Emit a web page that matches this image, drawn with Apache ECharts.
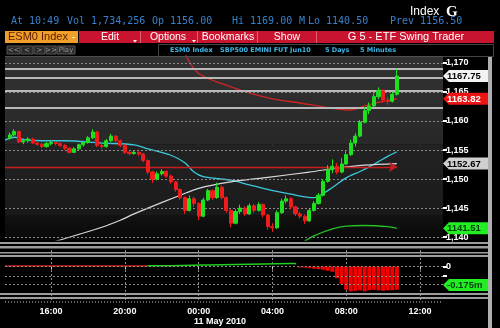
<!DOCTYPE html>
<html><head><meta charset="utf-8">
<script src="https://cdn.jsdelivr.net/npm/echarts@6/dist/echarts.min.js"></script>
<style>html,body{margin:0;padding:0;background:#000;}#c{width:500px;height:328px;}</style>
</head><body><div id="c"></div>
<script>
// ---------- data ----------
const categories = [];
for (let i = 0; i < 96; i++) { const m = (13 * 60 + 30 + 15 * i) % 1440; categories.push(String(Math.floor(m / 60)).padStart(2, '0') + ':' + String(m % 60).padStart(2, '0')); }
const tickTimes = ['16:00', '20:00', '00:00', '04:00', '08:00', '12:00'];
const priceTicks = [1140, 1145, 1150, 1155, 1160, 1165, 1170];
const candleStart = '13:45';
const opens = [1157.0,1157.6,1158.2,1156.4,1156.6,1156.9,1156.2,1156.0,1155.6,1156.1,1156.3,1156.1,1155.8,1155.3,1154.6,1155.2,1155.9,1156.3,1157.1,1158.1,1155.8,1155.6,1156.6,1157.4,1156.6,1155.8,1154.6,1154.4,1154.6,1154.3,1153.2,1151.2,1150.0,1150.9,1151.3,1150.5,1149.5,1148.2,1146.8,1144.6,1146.6,1145.8,1143.6,1146.4,1148.0,1146.8,1148.6,1146.8,1144.6,1142.4,1144.4,1145.0,1144.0,1145.4,1144.6,1145.6,1143.8,1141.8,1141.6,1144.2,1146.2,1146.6,1145.2,1144.0,1143.6,1142.8,1144.6,1145.8,1147.2,1149.6,1151.6,1152.2,1151.2,1152.6,1154.2,1156.2,1157.4,1159.8,1161.8,1162.6,1164.2,1165.2,1163.6,1163.4,1164.6];
const closes = [1157.6,1158.2,1156.4,1156.6,1156.9,1156.2,1156.0,1155.6,1156.1,1156.3,1156.1,1155.8,1155.3,1154.6,1155.2,1155.9,1156.3,1157.1,1158.1,1155.8,1155.6,1156.6,1157.4,1156.6,1155.8,1154.6,1154.4,1154.6,1154.3,1153.2,1151.2,1150.0,1150.9,1151.3,1150.5,1149.5,1148.2,1146.8,1144.6,1146.6,1145.8,1143.6,1146.4,1148.0,1146.8,1148.6,1146.8,1144.6,1142.4,1144.4,1145.0,1144.0,1145.4,1144.6,1145.6,1143.8,1141.8,1141.6,1144.2,1146.2,1146.6,1145.2,1144.0,1143.6,1142.8,1144.6,1145.8,1147.2,1149.6,1151.6,1152.2,1151.2,1152.6,1154.2,1156.2,1157.4,1159.8,1161.8,1162.6,1164.2,1165.2,1163.6,1163.4,1164.6,1167.75];
const lows = [1156.8,1157.4,1156.2,1156.0,1156.3,1156.0,1155.7,1155.3,1155.4,1155.8,1155.8,1155.5,1155.0,1154.4,1154.5,1155.0,1155.6,1156.1,1156.9,1155.5,1155.2,1155.4,1156.4,1156.3,1155.5,1154.3,1154.1,1154.2,1154.0,1152.9,1150.8,1149.3,1149.8,1150.6,1150.2,1149.2,1147.8,1146.4,1144.0,1144.4,1145.2,1142.9,1143.4,1146.2,1146.4,1146.6,1146.5,1144.2,1141.7,1142.2,1144.0,1143.6,1143.8,1144.2,1144.4,1143.4,1141.3,1140.9,1141.4,1144.0,1145.8,1144.8,1143.6,1143.2,1142.3,1142.6,1144.4,1145.6,1147.0,1149.4,1151.0,1150.8,1151.0,1152.4,1154.0,1155.6,1157.2,1159.6,1161.2,1162.4,1163.8,1163.2,1162.8,1163.2,1164.4];
const highs = [1158.0,1158.6,1158.3,1157.0,1157.2,1157.1,1156.5,1156.2,1156.4,1156.6,1156.5,1156.3,1156.0,1155.5,1155.5,1156.1,1156.6,1157.4,1158.6,1158.3,1156.1,1156.9,1157.8,1157.6,1156.8,1156.0,1154.9,1154.9,1154.8,1154.5,1153.4,1151.4,1151.3,1151.7,1151.5,1150.8,1149.7,1148.4,1147.0,1147.2,1147.0,1146.0,1146.8,1148.3,1148.2,1149.4,1148.9,1147.0,1144.8,1144.8,1145.6,1145.3,1145.8,1145.7,1146.0,1145.8,1144.0,1142.4,1144.6,1146.6,1147.2,1146.9,1145.4,1144.4,1143.9,1145.0,1146.2,1147.6,1150.0,1152.4,1153.4,1152.8,1153.6,1154.8,1156.8,1157.9,1160.2,1162.4,1163.2,1164.8,1165.8,1165.5,1164.2,1165.0,1169.0];

const cyanTimes = ['13:30','14:00','14:30','15:30','16:45','18:45','20:30','21:15','22:30','23:15','23:45','00:15','01:45','02:45','03:30','05:00','06:15','07:00','08:00','08:45','09:15','09:45','10:15','10:45'];
const cyanValues = [1156.7,1157.2,1156.8,1156.6,1156.6,1156.2,1155.9,1155.2,1154.1,1152.8,1151.2,1150.4,1149.8,1149.0,1148.4,1147.4,1146.8,1148.0,1150.2,1151.3,1152.1,1153.0,1153.9,1154.7];
const whiteTimes = ['15:45','18:45','19:45','20:30','21:15','23:00','00:00','01:45','03:45','06:00','07:30','09:00','10:45'];
const whiteValues = [1138.8,1141.7,1142.9,1144.0,1145.0,1147.2,1148.4,1149.5,1150.3,1151.2,1151.9,1152.4,1152.67];
const redMaTimes = ['23:15','00:00','01:45','03:45','05:30','07:15','08:15','09:00','09:45','10:45'];
const redMaValues = [1171.6,1168.2,1165.9,1164.0,1163.1,1162.2,1161.9,1162.6,1163.2,1163.82];
const greenMaTimes = ['05:45','06:15','07:15','08:00','09:00','10:15','10:45'];
const greenMaValues = [1139.3,1140.2,1141.4,1141.9,1142.0,1141.8,1141.51];
const levelLines = [1169.0, 1167.4, 1165.2, 1162.2];
const redLevel = 1152.1;

const lowRedTimes = ['13:30', '21:15'];
const lowRedValues = [0.005, 0.005];
const lowGreenTimes = ['21:15','22:15','22:30','00:15','00:30','05:00','05:15'];
const lowGreenValues = [0.008,0.008,0.015,0.015,0.028,0.028,0.02];
const barStart = '05:15';
const flowValues = [0,-0.01,-0.01,-0.015,-0.02,-0.025,-0.03,-0.04,-0.05,-0.11,-0.165,-0.22,-0.235,-0.23,-0.225,-0.235,-0.225,-0.22,-0.225,-0.23,-0.225,-0.225,-0.22];
const flowLast = -0.175;
const flowGrid = [0, -0.0875, -0.175];

const headerPieces = [['At 10:49', 11], ['Vol 1,734,256', 67], ['Op 1156.00', 152], ['Hi 1169.00', 232], ['M', 299], ['Lo 1140.50', 308], ['Prev 1156.50', 390]];

// ---------- build ----------
const cs = categories.indexOf(candleStart);
const candleData = categories.map((c, i) => {
  const k = i - cs;
  return (k >= 0 && k < closes.length) ? [opens[k], closes[k], lows[k], highs[k]] : '-';
});
const pairs = (t, v) => t.map((x, i) => [x, v[i]]);
const bs = categories.indexOf(barStart);
const barData = categories.map((c, i) => { const k = i - bs; return (k >= 0 && k < flowValues.length) ? flowValues[k] : '-'; });
const showTick = (idx, val) => tickTimes.includes(val);
const lastTime = categories[cs + closes.length - 1];

const chart = echarts.init(document.getElementById('c'));
const font = "'Liberation Sans', Arial, sans-serif";
const grad = (a, b) => new echarts.graphic.LinearGradient(0, 0, 0, 1, [{offset: 0, color: a}, {offset: 1, color: b}]);

chart.setOption({
  animation: false,
  backgroundColor: '#000',
  grid: [
    {left: 5, right: 57, top: 56, height: 184},
    {left: 5, right: 57, top: 242, height: 58}
  ],
  xAxis: [
    {type: 'category', gridIndex: 0, data: categories, boundaryGap: false,
     axisLine: {show: false}, axisTick: {show: false}, axisLabel: {show: false},
     splitLine: {show: true, interval: showTick, lineStyle: {color: '#8a8a8a', type: [2, 2], width: 1}}},
    {type: 'category', gridIndex: 1, data: categories, boundaryGap: false,
     axisLine: {show: false},
     axisTick: {show: true, interval: showTick, length: 3, lineStyle: {color: '#cccccc'}},
     axisLabel: {show: true, interval: showTick, color: '#ffffff', fontSize: 9, fontWeight: 'bold', fontFamily: font, margin: 7},
     splitLine: {show: true, interval: showTick, lineStyle: {color: '#8a8a8a', type: [2, 2], width: 1}}}
  ],
  yAxis: [
    {type: 'value', gridIndex: 0, position: 'right', min: 1139.5, max: 1171.2, scale: true,
     axisLine: {show: false},
     axisTick: {show: true, customValues: priceTicks, length: 4, lineStyle: {color: '#fff', width: 2}},
     axisLabel: {show: true, customValues: priceTicks, color: '#fff', fontSize: 9, fontWeight: 'bold', fontFamily: font, margin: 3},
     splitLine: {show: false}},
    {type: 'value', gridIndex: 1, position: 'right', min: -0.317, max: 0.232,
     axisLine: {show: false},
     axisTick: {show: true, customValues: [0, -0.0875], length: 4, lineStyle: {color: '#fff', width: 2}},
     axisLabel: {show: true, customValues: [0], formatter: v => (v === 0 ? '0' : ''), color: '#fff', fontSize: 9, fontWeight: 'bold', fontFamily: font, margin: 3},
     splitLine: {show: false}}
  ],
  series: [
    {type: 'line', xAxisIndex: 0, yAxisIndex: 0, data: [], z: 1, silent: true,
     markArea: {silent: true, data: [
       [{yAxis: 1171.2, itemStyle: {color: grad('#323232', '#282828')}}, {yAxis: 1156.0}],
       [{yAxis: 1156.0, itemStyle: {color: grad('#232323', '#1a1a1a')}}, {yAxis: 1143.8}],
       [{yAxis: 1143.8, itemStyle: {color: grad('#121212', '#080808')}}, {yAxis: 1139.5}]
     ]},
     markLine: {silent: true, symbol: 'none', label: {show: false}, lineStyle: {color: '#8a8a8a', type: [2, 2], width: 1},
       data: priceTicks.map(v => ({yAxis: v}))}},
    {type: 'candlestick', xAxisIndex: 0, yAxisIndex: 0, data: candleData, barWidth: 3.6, z: 5,
     itemStyle: {color: '#1ee01e', color0: '#ee1c1c', borderColor: '#1ee01e', borderColor0: '#ee1c1c', borderWidth: 1},
     markLine: {silent: true, symbol: 'none', label: {show: false}, lineStyle: {color: '#b8b8b8', width: 2, type: 'solid'},
       data: levelLines.map(v => ({yAxis: v}))}},
    {type: 'line', xAxisIndex: 0, yAxisIndex: 0, data: pairs(cyanTimes, cyanValues), smooth: 0.3, symbol: 'none', z: 4,
     lineStyle: {color: '#3cc8dc', width: 1.3}},
    {type: 'line', xAxisIndex: 0, yAxisIndex: 0, data: pairs(whiteTimes, whiteValues), smooth: 0.3, symbol: 'none', z: 4,
     lineStyle: {color: '#d8d8d8', width: 1.2},
     markLine: {silent: true, symbol: ['none', 'arrow'], symbolSize: 8, label: {show: false}, lineStyle: {color: '#c81e1e', width: 1.3, type: 'solid'},
       data: [[{coord: [categories[0], redLevel]}, {coord: [lastTime, redLevel]}]]}},
    {type: 'line', xAxisIndex: 0, yAxisIndex: 0, data: pairs(redMaTimes, redMaValues), smooth: 0.3, symbol: 'none', z: 4,
     lineStyle: {color: '#d02424', width: 1.3}},
    {type: 'line', xAxisIndex: 0, yAxisIndex: 0, data: pairs(greenMaTimes, greenMaValues), smooth: 0.3, symbol: 'none', z: 4,
     lineStyle: {color: '#22c022', width: 1.3}},
    {type: 'line', xAxisIndex: 1, yAxisIndex: 1, data: pairs(lowRedTimes, lowRedValues), symbol: 'none', z: 4,
     lineStyle: {color: '#d02020', width: 1.5}},
    {type: 'line', xAxisIndex: 1, yAxisIndex: 1, data: pairs(lowGreenTimes, lowGreenValues), symbol: 'none', step: 'end', z: 4,
     lineStyle: {color: '#22cc22', width: 1.5}},
    {type: 'bar', xAxisIndex: 1, yAxisIndex: 1, data: barData, barCategoryGap: '12%', z: 4,
     itemStyle: {color: '#f00000'},
     markLine: {silent: true, symbol: 'none', label: {show: false}, lineStyle: {color: '#8a8a8a', type: [2, 2], width: 1},
       data: flowGrid.map(v => ({yAxis: v}))}}
  ]
});

// ---------- decorations ----------
const g = [];
const txt = (text, x, y, fill, f, align) => ({type: 'text', z: 100, style: {text, x, y, fill, font: f, textAlign: align || 'left', textVerticalAlign: 'middle'}});
const rect = (x, y, w, h, fill, stroke) => ({type: 'rect', z: 90, shape: {x, y, width: w, height: h}, style: {fill: fill || 'none', stroke: stroke || null, lineWidth: 1}});

g.push(txt('Index', 410, 12, '#ffffff', "12px 'Liberation Sans'"));
g.push(txt('G', 446, 12, '#ffffff', "bold 15px 'Liberation Serif'"));
headerPieces.forEach(p => g.push(txt(p[0], p[1], 21, '#3a80cc', "10px 'DejaVu Sans Mono'")));

// toolbar
g.push(rect(5, 31, 73, 12, '#f0a028'));
g.push(txt('ESM0 Index', 8, 37, '#5c1a00', "11px 'Liberation Sans'"));
g.push(txt('-', 72, 37, '#ffffff', "10px 'Liberation Sans'"));
g.push(rect(79, 31, 415, 12, '#c8142e'));
[140, 197, 257, 316].forEach(x => g.push(rect(x, 31, 1, 12, '#e06070')));
g.push(txt('Edit', 110, 37, '#fff', "10.5px 'Liberation Sans'", 'center'));
g.push(txt('Options', 168, 37, '#fff', "10.5px 'Liberation Sans'", 'center'));
g.push(txt('Bookmarks', 228, 37, '#fff', "10.5px 'Liberation Sans'", 'center'));
g.push(txt('Show', 287, 37, '#fff', "10.5px 'Liberation Sans'", 'center'));
g.push(txt('G 5 - ETF Swing Trader', 406, 37, '#fff', "11px 'Liberation Sans'", 'center'));
[[135, 41], [194, 41]].forEach(p => g.push({type: 'polygon', z: 100, shape: {points: [[p[0] - 2, p[1] - 1], [p[0] + 2, p[1] - 1], [p[0], p[1] + 1.5]]}, style: {fill: '#fff'}}));

// second row
[[7, 13, '<<'], [21, 12, '<'], [34, 11, '>'], [46, 10, '>>'], [57, 18, 'Play']].forEach(b => {
  g.push(rect(b[0], 46, b[1], 8, '#2a2a2a', '#555'));
  g.push(txt(b[2], b[0] + b[1] / 2, 50, '#9a9a9a', "7px 'DejaVu Sans'", 'center'));
});
g.push(rect(158.5, 44.5, 335, 12, null, '#444'));
[['ESM0 Index', 170], [':', 210], ['SBP500 EMINI FUT Jun10', 220], ['5 Days', 325], ['5 Minutes', 360]].forEach(p =>
  g.push(txt(p[0], p[1], 50.5, '#3ab8e8', "bold 6.5px 'DejaVu Sans'")));
g.push(rect(5, 56, 438, 0.8, '#555'));

// separators
[[242, 2], [246, 2.5], [252, 1.5], [255, 2], [293, 2], [297, 2]].forEach(s => g.push(rect(0, s[0], 488, s[1], '#9c9c9c')));
g.push({type: 'line', z: 90, shape: {x1: 5, y1: 302, x2: 443, y2: 302}, style: {stroke: '#888', lineWidth: 1.5, lineDash: [1, 2]}});
g.push(rect(488, 57, 4, 271, '#b0b0b0'));
g.push(txt('11 May 2010', 220, 322, '#ffffff', "bold 9px 'Liberation Sans'", 'center'));

// value tags
const tag = (y, text, bg, fg) => {
  g.push({type: 'polygon', z: 95, shape: {points: [[443, y], [449, y - 6], [488, y - 6], [488, y + 6], [449, y + 6]]}, style: {fill: bg}});
  g.push(txt(text, 447, y + 0.5, fg, "bold 9.5px 'Liberation Sans'"));
};
const py = v => chart.convertToPixel({yAxisIndex: 0}, v);
tag(py(closes[closes.length - 1]), closes[closes.length - 1].toFixed(2), '#f2f2f2', '#000');
tag(py(redMaValues[redMaValues.length - 1]), redMaValues[redMaValues.length - 1].toFixed(2), '#ee1414', '#fff');
tag(py(whiteValues[whiteValues.length - 1]), whiteValues[whiteValues.length - 1].toFixed(2), '#d0d0d0', '#000');
tag(py(greenMaValues[greenMaValues.length - 1]), greenMaValues[greenMaValues.length - 1].toFixed(2), '#22ee22', '#064010');
tag(chart.convertToPixel({yAxisIndex: 1}, flowLast), flowLast.toFixed(3) + 'm', '#22ee22', '#064010');

chart.setOption({graphic: g});
</script></body></html>
